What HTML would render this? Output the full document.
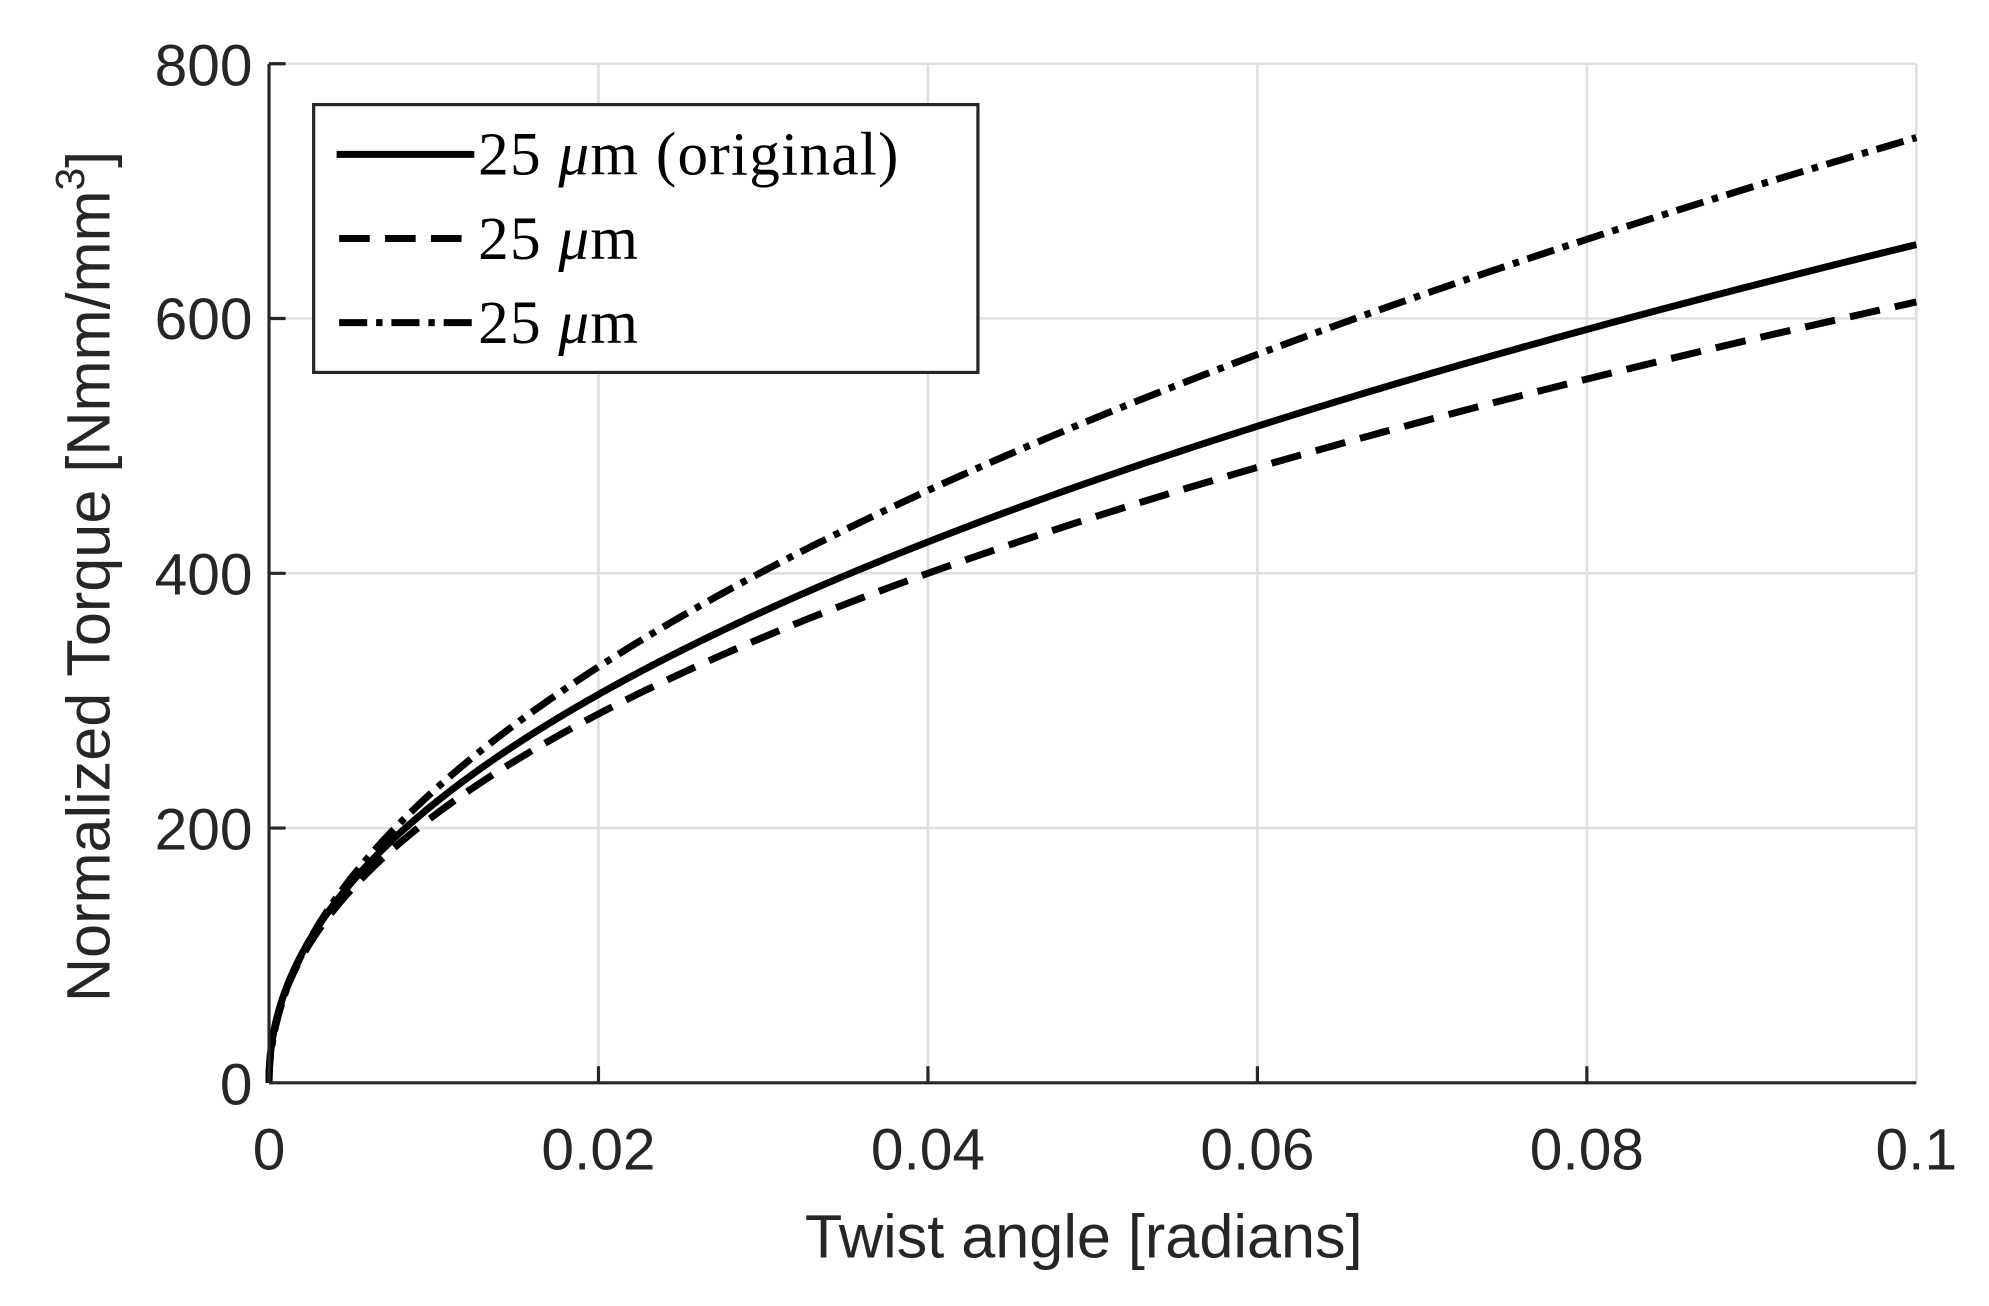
<!DOCTYPE html>
<html><head><meta charset="utf-8"><style>
html,body{margin:0;padding:0;background:#fff;}
svg{display:block}
</style></head><body>
<svg width="1989" height="1306" viewBox="0 0 1560 1024" preserveAspectRatio="none" xmlns="http://www.w3.org/2000/svg">
<rect width="1560" height="1024" fill="#fff"/>
<g stroke="#dfdfdf" stroke-width="2">
<line x1="469.4" y1="50" x2="469.4" y2="849"/>
<line x1="727.8" y1="50" x2="727.8" y2="849"/>
<line x1="986.2" y1="50" x2="986.2" y2="849"/>
<line x1="1244.6" y1="50" x2="1244.6" y2="849"/>
<line x1="1503" y1="50" x2="1503" y2="849"/>
<line x1="211" y1="649.25" x2="1503" y2="649.25"/>
<line x1="211" y1="449.5" x2="1503" y2="449.5"/>
<line x1="211" y1="249.75" x2="1503" y2="249.75"/>
<line x1="211" y1="50" x2="1503" y2="50"/>
</g>
<g id="curves" fill="none" stroke="#000" stroke-width="5.5"></g>
<g stroke="#262626" stroke-width="2.5" fill="none">
<line x1="211" y1="50" x2="211" y2="849"/>
<line x1="211" y1="849" x2="1503" y2="849"/>
<line x1="211" y1="649.25" x2="224" y2="649.25"/>
<line x1="211" y1="449.5" x2="224" y2="449.5"/>
<line x1="211" y1="249.75" x2="224" y2="249.75"/>
<line x1="211" y1="50" x2="224" y2="50"/>
<line x1="469.4" y1="849" x2="469.4" y2="836"/>
<line x1="727.8" y1="849" x2="727.8" y2="836"/>
<line x1="986.2" y1="849" x2="986.2" y2="836"/>
<line x1="1244.6" y1="849" x2="1244.6" y2="836"/>
</g>
<g font-family="Liberation Sans, sans-serif" font-size="46" fill="#262626">
<g text-anchor="end">
<text x="198" y="866">0</text>
<text x="198" y="666">200</text>
<text x="198" y="466">400</text>
<text x="198" y="266">600</text>
<text x="198" y="67">800</text>
</g>
<g text-anchor="middle">
<text x="211" y="917">0</text>
<text x="469.4" y="917">0.02</text>
<text x="727.8" y="917">0.04</text>
<text x="986.2" y="917">0.06</text>
<text x="1244.6" y="917">0.08</text>
<text x="1503" y="917">0.1</text>
<text x="850" y="986" font-size="48">Twist angle [radians]</text>
<text transform="translate(86,452) rotate(-90)" font-size="48">Normalized Torque [Nmm/mm<tspan dy="-20" font-size="32">3</tspan><tspan dy="20">]</tspan></text>
</g>
</g>
<rect x="246" y="82" width="521" height="210" fill="#fff" stroke="#262626" stroke-width="2.5"/>
<g stroke="#000" stroke-width="5.5">
<line x1="264" y1="121" x2="372" y2="121"/>
<line x1="266" y1="187" x2="372" y2="187" stroke-dasharray="24,12"/>
<line x1="266" y1="253" x2="372" y2="253" stroke-dasharray="22,7,5,7"/>
</g>
<g font-family="Liberation Serif, serif" font-size="48" fill="#000" letter-spacing="1">
<text x="375" y="137">25 <tspan font-style="italic">μ</tspan>m (original)</text>
<text x="375" y="203">25 <tspan font-style="italic">μ</tspan>m</text>
<text x="375" y="269">25 <tspan font-style="italic">μ</tspan>m</text>
</g>
<script>
(function(){
var g=document.getElementById('curves');
function mk(a,p,dash){
var d='';for(var i=0;i<=300;i++){var x=0.1*Math.pow(i/300,2.2);var y=a*Math.pow(x/0.1,p);
var px=211+x*12920, py=849-y*0.99875;d+=(i?'L':'M')+px.toFixed(2)+','+py.toFixed(2);}
var e=document.createElementNS('http://www.w3.org/2000/svg','path');e.setAttribute('d',d);
if(dash)e.setAttribute('stroke-dasharray',dash);g.appendChild(e);}
mk(658,0.478,null);
mk(613,0.466,'24,12');
mk(742,0.51,'22,7,5,7');
})();
</script>
</svg>
</body></html>
